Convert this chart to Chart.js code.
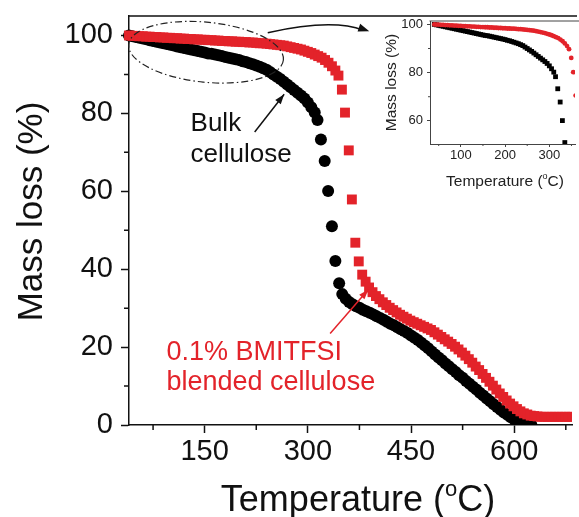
<!DOCTYPE html>
<html>
<head>
<meta charset="utf-8">
<script src="https://cdn.jsdelivr.net/npm/chart.js@4.4.1/dist/chart.umd.min.js"></script>
<style>
  html, body { margin: 0; padding: 0; background: #fff; }
  #wrap { position: relative; width: 579px; height: 517px; overflow: hidden; }
  #mainChart { position: absolute; left: 0; top: 0; }
  #insetChart { position: absolute; left: 370px; top: 0; }
</style>
</head>
<body>
<div id="wrap">
  <canvas id="mainChart" width="579" height="517"></canvas>
  <canvas id="insetChart" width="209" height="200"></canvas>
</div>
<script>
// ---- tick values ----
const xTicks = [150, 300, 450, 600];
const xMinorTicks = [75, 225, 375, 525, 675];
const yTicks = [0, 20, 40, 60, 80, 100];
const yMinorTicks = [10, 30, 50, 70, 90];
const insetXTicks = [100, 200, 300];
const insetXMinorTicks = [50, 150, 250, 350];
const insetYTicks = [60, 80, 100];
const insetYMinorTicks = [70, 90];

// ---- bulk cellulose (°C, mass %) ----
const bulkTemp = [
  40, 45, 50, 55, 60, 65, 70, 75, 80, 85,
  90, 95, 100, 105, 110, 115, 120, 125, 130, 135,
  140, 145, 150, 155, 160, 165, 170, 175, 180, 185,
  190, 195, 200, 205, 210, 215, 220, 225, 230, 235,
  240, 245, 250, 255, 260, 265, 270, 275, 280, 285,
  290, 295, 300, 305, 310, 314,
  319, 324.5, 329.5, 335, 340, 345.5,
  350, 355, 360, 365, 370, 375, 380, 385, 390, 395,
  400, 405, 410, 415, 420, 425, 430, 435, 440, 445,
  450, 455, 460, 465, 470, 475, 480, 485, 490, 495,
  500, 505, 510, 515, 520, 525, 530, 535, 540, 545,
  550, 555, 560, 565, 570, 575, 580, 585, 590, 595,
  600, 605, 610, 615, 620, 625
];
const bulkMass = [
  100.0, 99.8, 99.6, 99.4, 99.2, 99.0, 98.8, 98.6, 98.4, 98.2,
  98.0, 97.8, 97.6, 97.4, 97.2, 97.0, 96.8, 96.6, 96.4, 96.2,
  96.0, 95.8, 95.6, 95.4, 95.3, 95.1, 94.9, 94.7, 94.5, 94.3,
  94.1, 93.9, 93.7, 93.4, 93.2, 92.9, 92.6, 92.3, 92.0, 91.6,
  91.2, 90.6, 90.0, 89.4, 88.8, 88.1, 87.4, 86.7, 86.0, 85.3,
  84.6, 83.8, 82.8, 81.6, 80.2, 78.3,
  73.3, 67.8, 60.1, 51.0, 42.1, 36.4,
  33.6, 32.4, 31.6, 31.0, 30.5, 30.1, 29.6, 29.2, 28.8, 28.4,
  27.9, 27.5, 27.0, 26.5, 26.0, 25.6, 25.1, 24.6, 24.1, 23.6,
  23.0, 22.4, 21.8, 21.1, 20.4, 19.7, 18.9, 18.1, 17.3, 16.6,
  15.8, 15.1, 14.3, 13.6, 12.8, 12.1, 11.3, 10.6, 9.8, 9.1,
  8.3, 7.6, 6.8, 6.1, 5.3, 4.6, 3.9, 3.2, 2.6, 2.0,
  1.4, 1.0, 0.6, 0.3, 0.1, 0.0
];

// ---- 0.1% BMITFSI blended cellulose (°C, mass %) ----
const blendTemp = [
  40, 45, 50, 55, 60, 65, 70, 75, 80, 85,
  90, 95, 100, 105, 110, 115, 120, 125, 130, 135,
  140, 145, 150, 155, 160, 165, 170, 175, 180, 185,
  190, 195, 200, 205, 210, 215, 220, 225, 230, 235,
  240, 245, 250, 255, 260, 265, 270, 275, 280, 285,
  290, 295, 300, 305, 310, 315, 320, 325, 330, 335,
  340,
  344.5, 349.5, 354, 359.5, 364, 369, 374,
  379, 384, 389, 394, 399, 404, 409, 414, 419, 424,
  429, 434, 439, 444, 449, 454, 459, 464, 469, 474,
  479, 484, 489, 494, 499, 504, 509, 514, 519, 524,
  529, 534, 539, 544, 549, 554, 559, 564, 569, 574,
  579, 584, 589, 594, 599, 604, 609, 614, 619, 624,
  629, 634, 639, 644, 649, 654, 659, 664, 669, 674,
  679, 684, 689
];
const blendMass = [
  100.0, 99.9, 99.9, 99.8, 99.8, 99.7, 99.7, 99.6, 99.6, 99.5,
  99.5, 99.4, 99.4, 99.3, 99.3, 99.2, 99.2, 99.1, 99.1, 99.0,
  99.0, 98.9, 98.9, 98.8, 98.8, 98.7, 98.7, 98.6, 98.6, 98.5,
  98.5, 98.4, 98.4, 98.3, 98.3, 98.2, 98.2, 98.1, 98.0, 98.0,
  97.9, 97.8, 97.7, 97.6, 97.5, 97.4, 97.2, 97.0, 96.8, 96.6,
  96.4, 96.1, 95.8, 95.5, 95.1, 94.7, 94.3, 93.7, 93.0, 92.1,
  91.0,
  89.7, 86.1, 80.2, 70.5, 57.9, 46.8, 42.0,
  38.6, 36.8, 35.3, 34.1, 33.1, 32.3, 31.5, 30.8, 30.1, 29.5,
  28.9, 28.3, 27.8, 27.3, 26.8, 26.4, 26.0, 25.6, 25.2, 24.8,
  24.4, 23.8, 23.2, 22.6, 22.0, 21.4, 20.8, 20.1, 19.4, 18.6,
  17.8, 16.9, 16.0, 15.0, 14.1, 13.1, 12.1, 11.1, 10.1, 9.1,
  8.1, 7.2, 6.3, 5.5, 4.8, 4.1, 3.5, 3.0, 2.7, 2.4,
  2.3, 2.2, 2.1, 2.1, 2.1, 2.1, 2.1, 2.1, 2.1, 2.1,
  2.1, 2.1, 2.1
];

const FONT = "'Liberation Sans', Arial, sans-serif";
const RED = "#e3232a";

const toPoints = (xs, ys) => xs.map((x, i) => ({ x: x, y: ys[i] }));

// annotation anchors, in data units (°C, %)
const ringCenter = [152, 95.7];
const ringHalf = [113, 7.7];
const curveArrow = [[241.7, 100.7], [335, 104.4], [389.3, 101.1]];
const bulkArrow = [[222.7, 75.2], [265.6, 84.9]];
const blendArrow = [[332.4, 23.5], [388, 34.8]];
const bulkLabel = [129.5, 75.4, 67.5];
const blendLabel = [94.5, 16.8, 9.0];

function arrowHead(ctx, fx, fy, tx, ty, len, half) {
  const a = Math.atan2(ty - fy, tx - fx);
  const bx = tx - len * Math.cos(a);
  const by = ty - len * Math.sin(a);
  ctx.beginPath();
  ctx.moveTo(tx, ty);
  ctx.lineTo(bx + half * Math.sin(a), by - half * Math.cos(a));
  ctx.lineTo(bx - half * Math.sin(a), by + half * Math.cos(a));
  ctx.closePath();
  ctx.fill();
}

function drawTempTitle(ctx, cx, base, size) {
  const big = size + "px " + FONT;
  const small = Math.round(size * 0.6) + "px " + FONT;
  ctx.font = big;
  const w1 = ctx.measureText("Temperature (").width;
  const w3 = ctx.measureText("C)").width;
  ctx.font = small;
  const w2 = ctx.measureText("o").width;
  const x0 = cx - (w1 + w2 + w3) / 2;
  ctx.textAlign = "left";
  ctx.textBaseline = "alphabetic";
  ctx.font = big;
  ctx.fillText("Temperature (", x0, base);
  ctx.font = small;
  ctx.fillText("o", x0 + w1, base - size * 0.42);
  ctx.font = big;
  ctx.fillText("C)", x0 + w1 + w2, base);
}

// top frame line + short minor ticks
const framePlugin = {
  id: "frame",
  afterDraw(chart, args, opts) {
    const { ctx, chartArea: a, scales: { x, y } } = chart;
    ctx.save();
    ctx.strokeStyle = opts.color;
    ctx.lineWidth = opts.width;
    ctx.beginPath();
    ctx.moveTo(a.left - opts.width / 2, a.top);
    ctx.lineTo(a.right + 5, a.top);
    opts.xMinor.forEach((v) => {
      const p = x.getPixelForValue(v);
      ctx.moveTo(p, a.bottom);
      ctx.lineTo(p, a.bottom + opts.minorLen);
    });
    opts.yMinor.forEach((v) => {
      const p = y.getPixelForValue(v);
      ctx.moveTo(a.left, p);
      ctx.lineTo(a.left - opts.minorLen, p);
    });
    ctx.stroke();
    ctx.restore();
  },
};

const mainNotes = {
  id: "mainNotes",
  afterDraw(chart) {
    const { ctx, chartArea: a, scales: { x, y } } = chart;
    const px = (v) => x.getPixelForValue(v);
    const py = (v) => y.getPixelForValue(v);
    ctx.save();

    // dash-dot ring around the low-temperature region
    ctx.strokeStyle = "#222";
    ctx.lineWidth = 1.2;
    ctx.setLineDash([7, 3, 1.5, 3]);
    ctx.beginPath();
    const cx = px(ringCenter[0]);
    const cy = py(ringCenter[1]);
    ctx.ellipse(cx, cy, px(ringCenter[0] + ringHalf[0]) - cx, py(ringCenter[1] - ringHalf[1]) - cy, 0.1, 0, Math.PI * 2);
    ctx.stroke();
    ctx.setLineDash([]);

    // curved arrow to the inset
    ctx.strokeStyle = "#111";
    ctx.fillStyle = "#111";
    ctx.lineWidth = 1.5;
    const [c0, c1, c2] = curveArrow;
    ctx.beginPath();
    ctx.moveTo(px(c0[0]), py(c0[1]));
    ctx.quadraticCurveTo(px(c1[0]), py(c1[1]), px(c2[0]) - 6, py(c2[1]) - 1);
    ctx.stroke();
    arrowHead(ctx, px(c1[0]), py(c1[1]), px(c2[0]), py(c2[1]), 11, 4);

    // arrow to bulk curve
    const [b0, b1] = bulkArrow;
    ctx.beginPath();
    ctx.moveTo(px(b0[0]), py(b0[1]));
    ctx.lineTo(px(b1[0]), py(b1[1]));
    ctx.stroke();
    arrowHead(ctx, px(b0[0]), py(b0[1]), px(b1[0]), py(b1[1]), 10, 3.5);

    // arrow to blended curve
    ctx.strokeStyle = RED;
    ctx.fillStyle = RED;
    const [r0, r1] = blendArrow;
    ctx.beginPath();
    ctx.moveTo(px(r0[0]), py(r0[1]));
    ctx.lineTo(px(r1[0]), py(r1[1]));
    ctx.stroke();
    arrowHead(ctx, px(r0[0]), py(r0[1]), px(r1[0]), py(r1[1]), 10, 3.5);

    // curve labels
    ctx.textAlign = "left";
    ctx.textBaseline = "alphabetic";
    ctx.fillStyle = "#111";
    ctx.font = "26px " + FONT;
    ctx.fillText("Bulk", px(bulkLabel[0]), py(bulkLabel[1]));
    ctx.fillText("cellulose", px(bulkLabel[0]), py(bulkLabel[2]));
    ctx.fillStyle = RED;
    ctx.font = "27px " + FONT;
    ctx.fillText("0.1% BMITFSI", px(blendLabel[0]), py(blendLabel[1]));
    ctx.fillText("blended cellulose", px(blendLabel[0]), py(blendLabel[2]));

    // axis titles
    ctx.fillStyle = "#111";
    drawTempTitle(ctx, 358, a.bottom + 86, 36);
    ctx.translate(a.left - 87.5, (a.top + a.bottom) / 2 - 9);
    ctx.rotate(-Math.PI / 2);
    ctx.textAlign = "center";
    ctx.font = "35px " + FONT;
    ctx.fillText("Mass loss (%)", 0, 0);
    ctx.restore();
  },
};

const insetNotes = {
  id: "insetNotes",
  afterDraw(chart) {
    const { ctx, chartArea: a } = chart;
    ctx.save();
    ctx.fillStyle = "#222";
    drawTempTitle(ctx, 135, a.bottom + 42, 15.5);
    ctx.translate(a.left - 34, (a.top + a.bottom) / 2);
    ctx.rotate(-Math.PI / 2);
    ctx.textAlign = "center";
    ctx.textBaseline = "alphabetic";
    ctx.font = "15.5px " + FONT;
    ctx.fillText("Mass loss (%)", 0, 0);
    ctx.restore();
  },
};

function axis(min, max, ticks, fit, o) {
  return {
    type: "linear",
    min: min,
    max: max,
    afterBuildTicks: (s) => { s.ticks = ticks.map((v) => ({ value: v })); },
    afterFit: (s) => {
      fit(s);
      s.paddingTop = 0; s.paddingBottom = 0; s.paddingLeft = 0; s.paddingRight = 0;
    },
    grid: { display: true, drawOnChartArea: false, tickLength: o.tick, tickWidth: o.width, tickColor: o.color },
    border: { display: true, color: o.color, width: o.width },
    ticks: {
      color: o.text,
      padding: o.pad,
      autoSkip: false,
      maxRotation: 0,
      includeBounds: false,
      font: { family: FONT, size: o.size, lineHeight: 1 },
    },
  };
}

const mainStyle = { tick: 8, width: 1.5, color: "#111", text: "#111", size: 29 };
new Chart(document.getElementById("mainChart"), {
  type: "scatter",
  data: {
    datasets: [
      {
        label: "Bulk cellulose",
        data: toPoints(bulkTemp, bulkMass),
        pointStyle: "circle",
        pointRadius: 6,
        backgroundColor: "#000",
        borderWidth: 0,
        order: 1,
        clip: { left: 6, top: 6, right: 0, bottom: 0 },
      },
      {
        label: "0.1% BMITFSI blended cellulose",
        data: toPoints(blendTemp, blendMass),
        pointStyle: "rect",
        pointRadius: 7,
        backgroundColor: RED,
        borderWidth: 0,
        order: 0,
        clip: { left: 6, top: 6, right: 0, bottom: 0 },
      },
    ],
  },
  options: {
    responsive: false,
    animation: false,
    devicePixelRatio: 1,
    layout: { padding: { top: 16, left: 0, right: 0, bottom: 0 } },
    plugins: {
      legend: { display: false },
      tooltip: { enabled: false },
      frame: { color: "#111", width: 1.5, minorLen: 5, xMinor: xMinorTicks, yMinor: yMinorTicks },
    },
    scales: {
      x: axis(40, 684, xTicks, (s) => { s.height = 92; }, { ...mainStyle, pad: 4 }),
      y: axis(0, 105, yTicks, (s) => { s.width = 129; }, { ...mainStyle, pad: 8 }),
    },
  },
  plugins: [framePlugin, mainNotes],
});

const insetStyle = { tick: 3, width: 1, color: "#444", text: "#222", size: 13 };
new Chart(document.getElementById("insetChart"), {
  type: "scatter",
  data: {
    datasets: [
      {
        label: "Bulk cellulose",
        data: toPoints(bulkTemp, bulkMass),
        pointStyle: "rect",
        pointRadius: 3.4,
        backgroundColor: "#000",
        borderWidth: 0,
        order: 1,
      },
      {
        label: "0.1% BMITFSI blended cellulose",
        data: toPoints(blendTemp, blendMass),
        pointStyle: "circle",
        pointRadius: 2.4,
        backgroundColor: RED,
        borderWidth: 0,
        order: 0,
      },
    ],
  },
  options: {
    responsive: false,
    animation: false,
    devicePixelRatio: 1,
    layout: { padding: { top: 21, left: 0, right: 0, bottom: 0 } },
    plugins: {
      legend: { display: false },
      tooltip: { enabled: false },
      frame: { color: "#444", width: 1, minorLen: 2, xMinor: insetXMinorTicks, yMinor: insetYMinorTicks },
    },
    scales: {
      x: axis(30.3, 358, insetXTicks, (s) => { s.height = 56; }, { ...insetStyle, pad: 1.5 }),
      y: axis(50.4, 101.4, insetYTicks, (s) => { s.width = 60; }, { ...insetStyle, pad: 4 }),
    },
  },
  plugins: [framePlugin, insetNotes],
});
</script>
</body>
</html>
